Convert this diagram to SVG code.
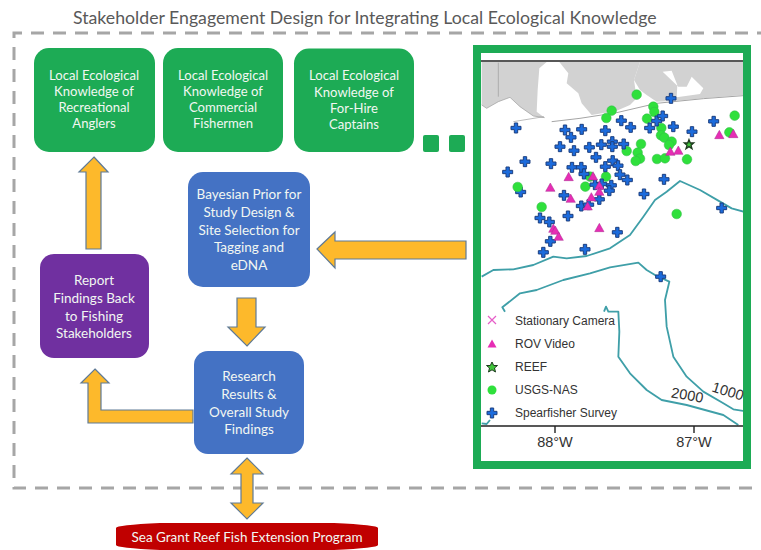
<svg xmlns="http://www.w3.org/2000/svg" width="761" height="550" viewBox="0 0 761 550">
<style>
.t{font-family:Lato,"Open Sans",sans-serif;font-size:13.1px;fill:#f2f7f2;text-anchor:middle}
.u{font-size:13.5px}
.g{fill:#1dab55}
.b{fill:#4472c4}
.a{fill:#fdb92b;stroke:#5f7a96;stroke-width:1.2}
.m{font-family:"Liberation Sans",Arial,sans-serif;fill:#333}
.c{fill:none;stroke:#3f9fa8;stroke-width:5.5;stroke-linejoin:round}
</style>
<defs>
<path id="x" d="M-5-15H5V-5H15V5H5V15H-5V5H-15V-5H-5Z" fill="#1c6bdc" stroke="#1d3f80" stroke-width="3"/>
<circle id="o" r="14.5" fill="#2fe03c" stroke="#35b84a" stroke-width="1.5"/>
<path id="v" d="M0-14L14 11H-14Z" fill="#e62db4" stroke="#a82a90" stroke-width="1.5"/>
<clipPath id="mc"><rect x="481" y="53" width="262" height="407"/></clipPath>
</defs>
<rect width="761" height="550" fill="#fff"/>
<text id="title" x="73" y="24" font-family="Lato,'Open Sans',sans-serif" font-size="17.7" fill="#595959">Stakeholder Engagement Design for Integrating Local Ecological Knowledge</text>
<path id="boundary" d="M770 33H14V488H770" fill="none" stroke="#a6a6a6" stroke-width="3" stroke-dasharray="13 9"/>

<g id="node-map">
<rect x="477" y="49" width="270" height="416" fill="#fff" stroke="#1dab55" stroke-width="8"/>
<g clip-path="url(#mc)">
<g transform="translate(470 40) scale(.33333)">
<path fill="#d2d2d2" d="M35 66H230L208 85L203 150L200 215L224 233L190 228L150 200L120 172L85 185L50 205L35 195Z"/>
<path fill="#d2d2d2" d="M268 66H510L492 120L510 150L530 165L560 185L620 182L700 175L820 165V66Z"/>
<path fill="#d2d2d2" d="M268 66L295 100L290 130L325 160L335 190L365 225L440 212L480 195L500 175L492 120L510 66Z"/>
<path fill="#fff" d="M578 95L605 92L622 135L620 172L690 162L700 145L665 110L650 140L625 140Z"/>
<path fill="none" stroke="#a5a5a5" stroke-width="3" d="M245 245L330 235L440 218L560 190L700 176L820 167"/>
<path fill="none" stroke="#9a9a9a" stroke-width="2" d="M35 195L50 205L85 185L120 172L150 200L190 228L224 233M130 245L222 230M85 68V170"/>
<g class="c">
<path d="M35 710L70 690L130 688L190 675L250 650L290 655L350 648L420 625L480 585L520 530L555 480L590 455L630 423L690 450L750 485L785 505L820 515"/>
<path d="M105 815L97 802L150 760L200 750L280 720L360 700L420 682L505 668L530 690L560 708L598 725L585 780L590 860L610 950L650 1010L700 1055L760 1090L790 1108L820 1113"/>
<path d="M402 815L408 800L415 815L445 815L448 875L445 950L480 1000L530 1050L575 1080L650 1095L760 1125L805 1155"/>
<path d="M35 1150L50 1152L60 1140"/>
</g>
<g id="greens">
<use href="#o" x="500" y="164"/><use href="#o" x="425" y="212"/><use href="#o" x="409" y="234"/><use href="#o" x="531" y="236"/><use href="#o" x="550" y="200"/><use href="#o" x="553" y="216"/><use href="#o" x="574" y="264"/><use href="#o" x="573" y="286"/><use href="#o" x="583" y="293"/><use href="#o" x="605" y="305"/><use href="#o" x="597" y="315"/><use href="#o" x="513" y="312"/><use href="#o" x="470" y="333"/><use href="#o" x="503" y="338"/><use href="#o" x="510" y="356"/><use href="#o" x="497" y="363"/><use href="#o" x="561" y="357"/><use href="#o" x="585" y="355"/><use href="#o" x="651" y="358"/><use href="#o" x="794" y="227"/><use href="#o" x="778" y="277"/><use href="#o" x="408" y="410"/><use href="#o" x="346" y="440"/><use href="#o" x="360" y="410"/><use href="#o" x="215" y="501"/><use href="#o" x="620" y="522"/>
</g>
<g id="crosses">
<use href="#x" x="138" y="264"/><use href="#x" x="285" y="270"/><use href="#x" x="303" y="292"/><use href="#x" x="335" y="268"/><use href="#x" x="406" y="272"/><use href="#x" x="454" y="242"/><use href="#x" x="482" y="262"/><use href="#x" x="539" y="264"/><use href="#x" x="560" y="243"/><use href="#x" x="578" y="228"/><use href="#x" x="610" y="260"/><use href="#x" x="666" y="275"/><use href="#x" x="731" y="244"/><use href="#x" x="603" y="175"/><use href="#x" x="270" y="320"/><use href="#x" x="312" y="332"/><use href="#x" x="358" y="322"/><use href="#x" x="394" y="314"/><use href="#x" x="427" y="305"/><use href="#x" x="427" y="320"/><use href="#x" x="461" y="312"/><use href="#x" x="378" y="352"/><use href="#x" x="428" y="362"/><use href="#x" x="444" y="377"/><use href="#x" x="406" y="380"/><use href="#x" x="306" y="382"/><use href="#x" x="334" y="382"/><use href="#x" x="342" y="402"/><use href="#x" x="243" y="371"/><use href="#x" x="165" y="365"/><use href="#x" x="113" y="396"/><use href="#x" x="152" y="456"/><use href="#x" x="450" y="404"/><use href="#x" x="472" y="420"/><use href="#x" x="582" y="418"/><use href="#x" x="424" y="436"/><use href="#x" x="418" y="452"/><use href="#x" x="395" y="432"/><use href="#x" x="375" y="434"/><use href="#x" x="282" y="466"/><use href="#x" x="388" y="478"/><use href="#x" x="334" y="498"/><use href="#x" x="356" y="494"/><use href="#x" x="522" y="462"/><use href="#x" x="294" y="528"/><use href="#x" x="210" y="534"/><use href="#x" x="238" y="546"/><use href="#x" x="241" y="604"/><use href="#x" x="220" y="637"/><use href="#x" x="345" y="628"/><use href="#x" x="442" y="577"/><use href="#x" x="755" y="504"/><use href="#x" x="572" y="710"/>
</g>
<use href="#o" x="143" y="441"/>
<g id="triangles">
<use href="#v" x="748" y="285"/><use href="#v" x="790" y="282"/><use href="#v" x="601" y="335"/><use href="#v" x="625" y="332"/><use href="#v" x="296" y="411"/><use href="#v" x="369" y="409"/><use href="#v" x="241" y="443"/><use href="#v" x="388" y="437"/><use href="#v" x="388" y="455"/><use href="#v" x="302" y="476"/><use href="#v" x="364" y="472"/><use href="#v" x="353" y="499"/><use href="#v" x="388" y="564"/><use href="#v" x="250" y="566"/><use href="#v" x="256" y="572"/><use href="#v" x="266" y="590"/>
</g>
<path id="star" transform="translate(657 314)" d="M0-15L4-5L14-5L6 2L9 12L0 6L-9 12L-6 2L-14-5L-4-5Z" fill="#3fc63a" stroke="#1e3a1e" stroke-width="4"/>
</g>
</g>
<path d="M481 61H743M481 426H743" stroke="#222" stroke-width="1.6" fill="none"/>
<path d="M555 426V433M694 426V433" stroke="#222" stroke-width="1.4" fill="none"/>
<g id="legend">
<path d="M488 316L496 324M496 316L488 324" stroke="#e65cc8" stroke-width="1.2"/>
<path d="M492 339.500L496.500 347.500H487.500Z" fill="#e62db4"/>
<path d="M492 362L493.700 365.500L497.500 365.500L494.500 368L495.500 372L492 369.800L488.500 372L489.500 368L486.500 365.500L490.300 365.500Z" fill="#3fc63a" stroke="#1e3a1e" stroke-width="1"/>
<circle cx="492" cy="390" r="4.500" fill="#2fe03c"/>
<path transform="translate(492 413) scale(.33333)" d="M-5-15H5V-5H15V5H5V15H-5V5H-15V-5H-5Z" fill="#1c6bdc" stroke="#1d3f80" stroke-width="3"/>
<text class="m" font-size="12" x="515" y="325">Stationary Camera</text>
<text class="m" font-size="12" x="515" y="348">ROV Video</text>
<text class="m" font-size="12" x="515" y="371">REEF</text>
<text class="m" font-size="12" x="515" y="394">USGS-NAS</text>
<text class="m" font-size="12" x="515" y="417">Spearfisher Survey</text>
</g>
<text class="m" font-size="14.500" text-anchor="middle" x="555" y="447">88°W</text>
<text class="m" font-size="14.500" text-anchor="middle" x="694" y="447">87°W</text>
<text class="m" font-size="14.500" text-anchor="middle" transform="translate(686.500 400) rotate(10)">2000</text>
<text class="m" font-size="14.500" text-anchor="middle" transform="translate(726.500 396) rotate(17)">1000</text>
</g>

<g id="node-recreational">
<rect class="g" x="34" y="48" width="121" height="104" rx="15"/>
<text class="t"><tspan x="94" y="80">Local Ecological</tspan><tspan x="94" y="96">Knowledge of</tspan><tspan x="94" y="112">Recreational</tspan><tspan x="94" y="128">Anglers</tspan></text>
</g>
<g id="node-commercial">
<rect class="g" x="163" y="48" width="120" height="104" rx="15"/>
<text class="t"><tspan x="223" y="80">Local Ecological</tspan><tspan x="223" y="96">Knowledge of</tspan><tspan x="223" y="112">Commercial</tspan><tspan x="223" y="128">Fishermen</tspan></text>
</g>
<g id="node-forhire">
<rect class="g" x="294" y="48.500" width="120" height="103.500" rx="15"/>
<text class="t"><tspan x="354" y="80">Local Ecological</tspan><tspan x="354" y="97">Knowledge of</tspan><tspan x="354" y="113">For-Hire</tspan><tspan x="354" y="129">Captains</tspan></text>
</g>
<g id="node-more-1"><rect class="g" x="423" y="135" width="16" height="17" rx="2"/></g>
<g id="node-more-2"><rect class="g" x="449" y="135" width="16" height="17" rx="2"/></g>
<g id="node-bayesian">
<rect class="b" x="188" y="172" width="122" height="115" rx="15"/>
<text class="t u"><tspan x="249" y="199">Bayesian Prior for</tspan><tspan x="249" y="217">Study Design &amp;</tspan><tspan x="249" y="235">Site Selection for</tspan><tspan x="249" y="252">Tagging and</tspan><tspan x="249" y="270">eDNA</tspan></text>
</g>
<g id="node-report">
<rect x="40" y="254" width="109" height="104" rx="14" fill="#7030a0"/>
<text class="t u"><tspan x="94" y="285">Report</tspan><tspan x="94" y="303">Findings Back</tspan><tspan x="94" y="321">to Fishing</tspan><tspan x="94" y="338">Stakeholders</tspan></text>
</g>
<g id="node-results">
<rect class="b" x="194" y="351" width="110" height="103" rx="14"/>
<text class="t u"><tspan x="249" y="381">Research</tspan><tspan x="249" y="399">Results &amp;</tspan><tspan x="249" y="417">Overall Study</tspan><tspan x="249" y="434">Findings</tspan></text>
</g>
<g id="node-seagrant">
<path d="M116 528Q116 525 160 523H334Q378 525 378 528V545Q378 548 334 550H160Q116 548 116 545Z" fill="#c00000"/>
<text class="t u" x="247" y="542">Sea Grant Reef Fish Extension Program</text>
</g>

<g id="connectors">
<path class="a" d="M94 157L108 172H101V249H86V172H79Z"/>
<path class="a" d="M317 249L335 232V241H466V259H335V268Z"/>
<path class="a" d="M247 346L265 327H256V298H237V327H228Z"/>
<path class="a" d="M95 369L109 383H101V410H193V423H88V383H81Z"/>
<path class="a" d="M247 458L263 474H253V503H263L247 519L231 503H241V474H231Z"/>
</g>
</svg>
